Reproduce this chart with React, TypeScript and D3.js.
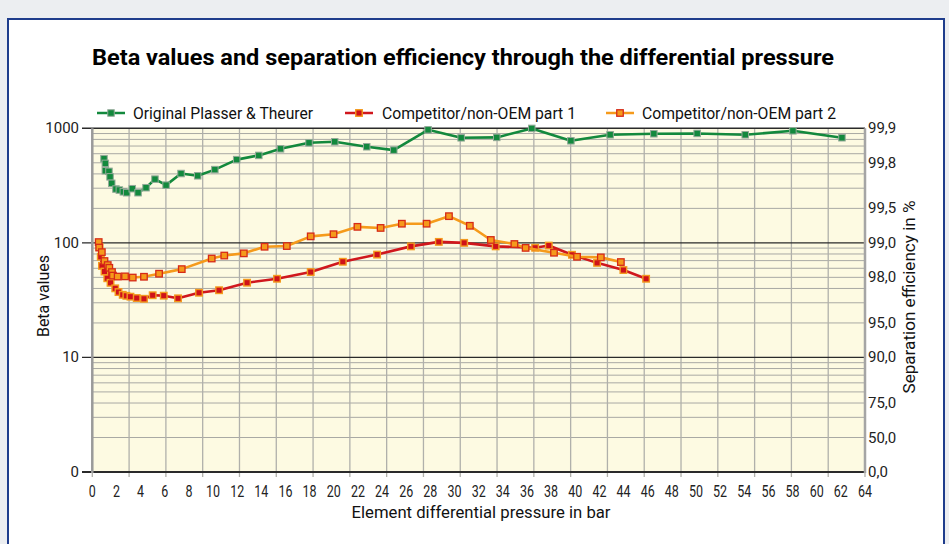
import React from 'react';
import * as d3 from 'd3';

// Data

const greenPressure = [0.97, 1.08, 1.08, 1.38, 1.47, 1.61, 1.96, 2.24, 2.57, 2.85, 3.31, 3.79, 4.45, 5.19, 6.11, 7.35, 8.73, 10.15, 11.96, 13.79, 15.59, 17.95, 20.08, 22.73, 24.97, 27.81, 30.55, 33.5, 36.4, 39.64, 42.89, 46.51, 50.1, 54.08, 58.03, 62.09];
const greenBeta = [542, 494, 426, 421, 377, 331, 295, 289, 279, 274, 297, 274, 303, 360, 319, 403, 385, 436, 533, 580, 662, 747, 763, 690, 645, 970, 826, 833, 998, 778, 878, 896, 902, 878, 951, 827];

const redPressure = [0.6, 0.7, 0.8, 1.01, 1.24, 1.51, 1.9, 2.17, 2.52, 2.82, 3.16, 3.68, 4.28, 5.0, 5.92, 7.1, 8.84, 10.5, 12.82, 15.3, 18.09, 20.75, 23.59, 26.39, 28.7, 30.8, 33.41, 36.68, 37.81, 39.73, 41.81, 43.99, 45.87];
const redBeta = [92, 75.6, 63, 56.2, 49.1, 44.8, 40.1, 37.2, 35.2, 34.5, 33.9, 33, 32.5, 34.9, 34.6, 32.8, 36.7, 38.6, 44.9, 48.6, 55.6, 68.4, 79, 93.2, 102, 100, 93.2, 90.6, 94.7, 78.7, 66.9, 57.9, 48.6];

const orangePressure = [0.53, 0.57, 0.79, 1.01, 1.28, 1.41, 1.63, 1.71, 2.1, 2.71, 3.35, 4.28, 5.53, 7.41, 9.89, 10.93, 12.55, 14.27, 16.11, 18.09, 19.98, 21.96, 23.88, 25.64, 27.69, 29.54, 31.27, 33.01, 34.96, 35.89, 38.24, 40.15, 42.12, 43.78];
const orangeBeta = [101.6, 91, 83, 69.4, 64, 60.6, 55.6, 51.8, 50.8, 51, 49.8, 50.6, 53.8, 59, 73, 77.5, 81, 92.5, 93.8, 114, 119, 138, 135, 147, 147, 171, 141, 106, 97.7, 90.4, 82, 75.6, 74.7, 68];

const seriesNames = ['Original Plasser & Theurer', 'Competitor/non-OEM part 1', 'Competitor/non-OEM part 2'];

const betaTicks = [1000, 100, 10, 1];
const betaTickLabels = ['1000', '100', '10', '0'];
const efficiencyTicks = ['99,9', '99,8', '99,5', '99,0', '98,0', '95,0', '90,0', '75,0', '50,0', '0,0'];
const pressureTicks = d3.range(0, 65, 2);

const W = 949;
const H = 544;
const plot = { left: 92.3, right: 865, top: 128.3, bottom: 472 };

const cond = 'Roboto, "Liberation Sans", Arial, sans-serif';

type Pt = [number, number];

function App() {
    const x = d3.scaleLinear().domain([0, 64]).range([plot.left, plot.right]);
    const y = d3.scaleLog().domain([1, 1000]).range([plot.bottom, plot.top]);

    const line = d3.line<Pt>().x((d) => x(d[0])).y((d) => y(d[1]));

    const green: Pt[] = greenPressure.map((p, i) => [p, greenBeta[i]]);
    const red: Pt[] = redPressure.map((p, i) => [p, redBeta[i]]);
    const orange: Pt[] = orangePressure.map((p, i) => [p, orangeBeta[i]]);

    // minor grid: 2..9 in each decade
    const minor: number[] = [];
    [1, 10, 100].forEach((dec) => d3.range(2, 10).forEach((k) => minor.push(k * dec)));
    const vGrid = d3.range(0, 22).map((i) => (i * 64) / 21);

    const styles = [
        { line: '#13893d', fill: '#13893d', stroke: '#93a998', sw: 1 },
        { line: '#d0171d', fill: '#cf1219', stroke: '#f39a1e', sw: 1.4 },
        { line: '#f59a1b', fill: '#f59a1b', stroke: '#d62a17', sw: 1.3 },
    ];
    const ms = 6.5;

    const markers = (pts: Pt[], s: typeof styles[0], key: string) =>
        pts.map((d, i) => (
            <rect key={key + i} x={x(d[0]) - ms / 2} y={y(d[1]) - ms / 2} width={ms} height={ms}
                fill={s.fill} stroke={s.stroke} strokeWidth={s.sw} />
        ));

    const legendItems = [
        { lx: 97, tx: 133, tw: 180 },
        { lx: 345, tx: 382, tw: 194 },
        { lx: 606, tx: 642, tw: 194 },
    ];

    return (
        <div style={{ position: 'absolute', left: 0, top: 0 }}>
            <svg width={W} height={H} style={{ display: 'block' }} fontFamily={cond}>
                <rect x={0} y={0} width={W} height={H} fill="#eceef1" />
                <rect x={8} y={19} width={936} height={540} fill="#ffffff" stroke="#1f3d8c" strokeWidth={2} />

                {/* title */}
                <text x={463} y={65} textAnchor="middle" fontSize={22} fontWeight="bold" fill="#000"
                    textLength={742} lengthAdjust="spacingAndGlyphs">
                    Beta values and separation efficiency through the differential pressure
                </text>

                {/* legend */}
                {legendItems.map((l, i) => (
                    <g key={'lg' + i}>
                        <line x1={l.lx} x2={l.lx + 28} y1={113} y2={113} stroke={styles[i].line} strokeWidth={2.5} />
                        <rect x={l.lx + 14 - ms / 2} y={113 - ms / 2} width={ms} height={ms}
                            fill={styles[i].fill} stroke={styles[i].stroke} strokeWidth={styles[i].sw} />
                        <text x={l.tx} y={118.5} fontSize={16} fill="#111" textLength={l.tw} lengthAdjust="spacingAndGlyphs">
                            {seriesNames[i]}
                        </text>
                    </g>
                ))}

                {/* plot background */}
                <rect x={plot.left} y={plot.top} width={plot.right - plot.left} height={plot.bottom - plot.top} fill="#fdfae2" />

                {/* grid */}
                {minor.map((v) => (
                    <line key={'mg' + v} x1={plot.left} x2={plot.right} y1={y(v)} y2={y(v)} stroke="#a9a9a4" strokeWidth={1} />
                ))}
                {vGrid.map((v, i) => (
                    <line key={'vg' + i} x1={x(v)} x2={x(v)} y1={plot.top} y2={plot.bottom + 5} stroke="#b0b0ab" strokeWidth={1.3} />
                ))}
                {[10, 100].map((v) => (
                    <line key={'maj' + v} x1={82} x2={plot.right} y1={y(v)} y2={y(v)} stroke="#2a2a2a" strokeWidth={1.3} />
                ))}
                <line x1={82} x2={plot.right} y1={plot.top} y2={plot.top} stroke="#2a2a2a" strokeWidth={1.5} />
                <line x1={82} x2={plot.right} y1={plot.bottom} y2={plot.bottom} stroke="#2a2a2a" strokeWidth={2} />
                <line x1={plot.left} x2={plot.left} y1={plot.top} y2={plot.bottom + 1} stroke="#9a9a9a" strokeWidth={2.5} />
                <line x1={plot.right} x2={plot.right} y1={plot.top} y2={plot.bottom + 1} stroke="#a5a5a5" strokeWidth={2.5} />

                {/* series */}
                <path d={line(red) || ''} fill="none" stroke={styles[1].line} strokeWidth={2.6} strokeLinejoin="round" />
                {markers(red, styles[1], 'r')}
                <path d={line(orange) || ''} fill="none" stroke={styles[2].line} strokeWidth={2.6} strokeLinejoin="round" />
                {markers(orange, styles[2], 'o')}
                <path d={line(green) || ''} fill="none" stroke={styles[0].line} strokeWidth={2.6} strokeLinejoin="round" />
                {markers(green, styles[0], 'g')}

                {/* left axis */}
                {betaTicks.map((v, i) => (
                    <text key={'bt' + v} x={79} y={y(v) + 5} textAnchor="end" fontSize={15} fill="#222">
                        {betaTickLabels[i]}
                    </text>
                ))}
                <text transform={`translate(49,${296}) rotate(-90)`} textAnchor="middle" fontSize={16} fill="#111">
                    Beta values
                </text>

                {/* right axis */}
                {efficiencyTicks.map((lab) => {
                    const e = parseFloat(lab.replace(',', '.'));
                    const beta = 100 / (100 - e);
                    return (
                        <text key={'et' + lab} x={868} y={y(beta) + 5} fontSize={15} fill="#222">
                            {lab}
                        </text>
                    );
                })}
                <text transform={`translate(915,${297}) rotate(-90)`} textAnchor="middle" fontSize={16} fill="#111"
                    textLength={193} lengthAdjust="spacingAndGlyphs">
                    Separation efficiency in %
                </text>

                {/* bottom axis */}
                {pressureTicks.map((v) => (
                    <text key={'pt' + v} x={x(v)} y={497} textAnchor="middle" fontSize={16} fill="#222"
                        textLength={String(v).length * 7} lengthAdjust="spacingAndGlyphs">
                        {v}
                    </text>
                ))}
                <text x={481} y={518} textAnchor="middle" fontSize={16} fill="#111" textLength={259} lengthAdjust="spacingAndGlyphs">
                    Element differential pressure in bar
                </text>
            </svg>
        </div>
    );
}

export default App;
